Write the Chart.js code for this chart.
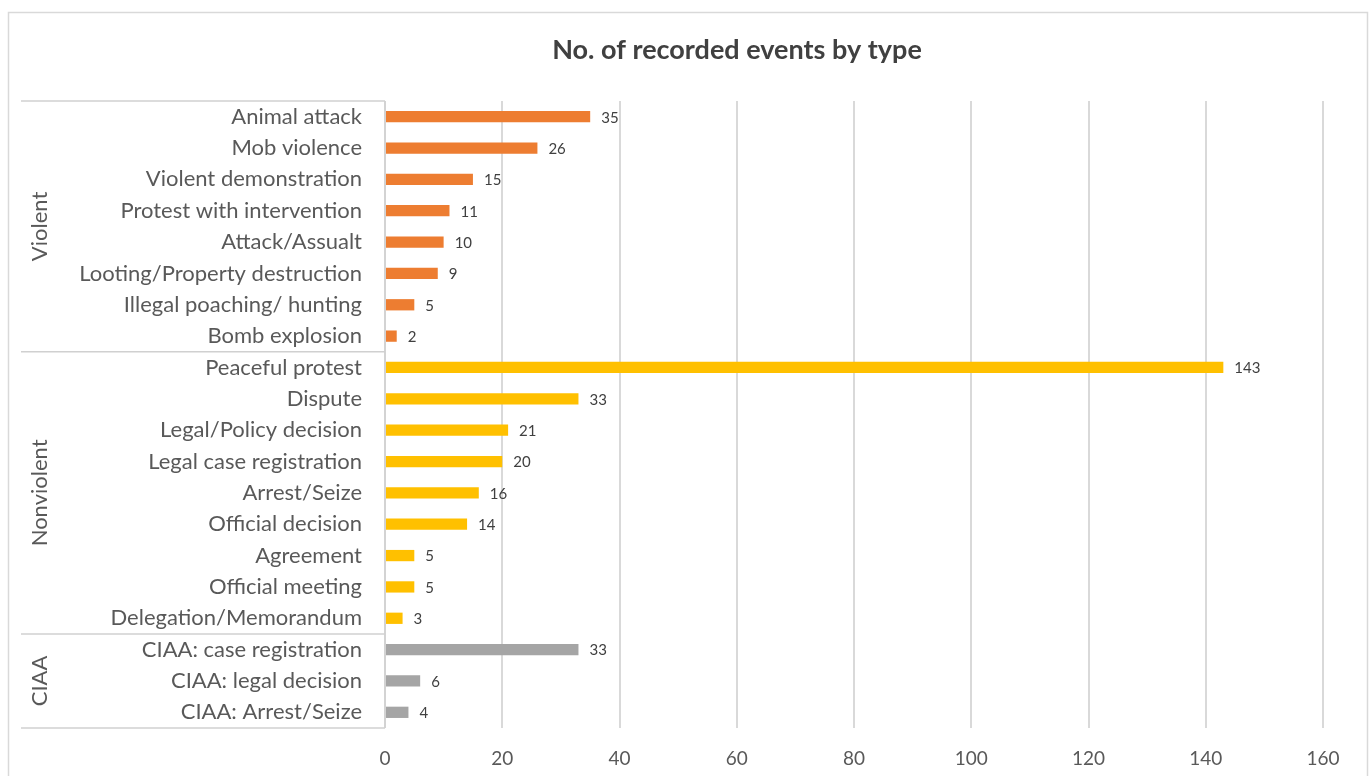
<!DOCTYPE html>
<html>
<head>
<meta charset="utf-8">
<script src="https://cdn.jsdelivr.net/npm/chart.js@4.4.1/dist/chart.umd.min.js"></script>
<style>
  html, body { margin: 0; padding: 0; background: #ffffff; }
  #wrap { width: 1370px; height: 776px; }
</style>
</head>
<body>
<div id="wrap"><canvas id="c" width="1370" height="776"></canvas></div>
<script>
const categories = ["Animal attack","Mob violence","Violent demonstration","Protest with intervention","Attack/Assualt","Looting/Property destruction","Illegal poaching/ hunting","Bomb explosion","Peaceful protest","Dispute","Legal/Policy decision","Legal case registration","Arrest/Seize","Official decision","Agreement","Official meeting","Delegation/Memorandum","CIAA: case registration","CIAA: legal decision","CIAA: Arrest/Seize"];
const values = [35,26,15,11,10,9,5,2,143,33,21,20,16,14,5,5,3,33,6,4];
const groupNames = ["Violent","Nonviolent","CIAA"];
const groupSizes = [8,9,3];
const groupColors = ["#ED7D31","#FFC000","#A5A5A5"];
const xTicks = [0,20,40,60,80,100,120,140,160];
const titleText = "No. of recorded events by type";

const FONT = "Lato, 'Open Sans', sans-serif";

const barColors = [];
groupSizes.forEach((n, g) => { for (let i = 0; i < n; i++) barColors.push(groupColors[g]); });

const decorPlugin = {
  id: 'decor',
  beforeDraw(chart) {
    const ctx = chart.ctx;
    ctx.save();
    ctx.fillStyle = '#ffffff';
    ctx.fillRect(0, 0, chart.width, chart.height);
    ctx.strokeStyle = '#d9d9d9';
    ctx.lineWidth = 1.5;
    ctx.strokeRect(8.5, 12.5, 1359, 800);
    // title
    ctx.fillStyle = '#404040';
    ctx.font = 'bold 27px ' + FONT;
    ctx.textAlign = 'center';
    ctx.textBaseline = 'middle';
    ctx.fillText(titleText, 737, 50);
    ctx.restore();
  },
  afterDraw(chart) {
    const ctx = chart.ctx;
    const ys = chart.scales.y;
    const area = chart.chartArea;
    ctx.save();
    ctx.strokeStyle = '#d0d0d0';
    ctx.lineWidth = 1.5;
    // vertical axis line
    ctx.beginPath();
    ctx.moveTo(area.left, area.top);
    ctx.lineTo(area.left, area.bottom);
    ctx.stroke();
    // group separators and labels
    let idx = 0;
    const bounds = [area.top];
    groupSizes.forEach(n => { idx += n; bounds.push(idx >= categories.length ? area.bottom : (ys.getPixelForTick(idx - 1) + ys.getPixelForTick(idx)) / 2); });
    bounds.forEach(y => {
      ctx.beginPath();
      ctx.moveTo(21, y);
      ctx.lineTo(area.left, y);
      ctx.stroke();
    });
    ctx.fillStyle = '#595959';
    ctx.font = '22px ' + FONT;
    ctx.textAlign = 'center';
    ctx.textBaseline = 'middle';
    groupNames.forEach((name, g) => {
      const cy = (bounds[g] + bounds[g + 1]) / 2;
      ctx.save();
      ctx.translate(40, cy);
      ctx.rotate(-Math.PI / 2);
      ctx.fillText(name, 0, 0);
      ctx.restore();
    });
    // data labels
    const meta = chart.getDatasetMeta(0);
    ctx.fillStyle = '#404040';
    ctx.font = '15px ' + FONT;
    ctx.textAlign = 'left';
    meta.data.forEach((bar, i) => {
      ctx.fillText(String(values[i]), bar.x + 11, bar.y + 1);
    });
    ctx.restore();
  }
};

new Chart(document.getElementById('c'), {
  type: 'bar',
  data: {
    labels: categories,
    datasets: [{
      data: values,
      backgroundColor: barColors,
      borderWidth: 0,
      barPercentage: 0.36,
      categoryPercentage: 1.0
    }]
  },
  options: {
    indexAxis: 'y',
    responsive: false,
    animation: false,
    layout: { padding: { left: 0, right: 47, top: 101, bottom: 0 } },
    plugins: {
      legend: { display: false },
      tooltip: { enabled: false },
      title: { display: false }
    },
    scales: {
      x: {
        min: 0, max: 160,
        afterBuildTicks(scale) { scale.ticks = xTicks.map(v => ({ value: v })); },
        afterFit(scale) { scale.height = 48; },
        grid: { color: '#d9d9d9', lineWidth: 2, drawTicks: false },
        border: { display: false },
        ticks: { color: '#595959', font: { family: FONT, size: 19 }, padding: 19 }
      },
      y: {
        afterFit(scale) { scale.width = 385; },
        grid: { display: false, drawTicks: false },
        border: { display: false },
        ticks: { color: '#595959', font: { family: FONT, size: 22 }, padding: 23, autoSkip: false }
      }
    }
  },
  plugins: [decorPlugin]
});
</script>
</body>
</html>
